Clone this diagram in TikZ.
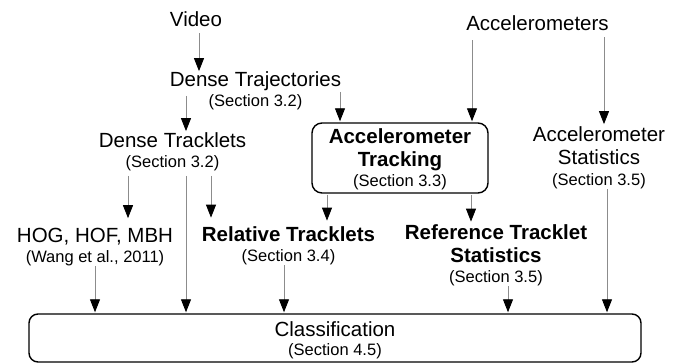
\documentclass[tikz,border=0pt]{standalone}
\usepackage{fontspec}
\setmainfont{Liberation Sans}
\usetikzlibrary{arrows.meta}
\definecolor{linegray}{RGB}{140,140,140}
\newcommand\mfont{\fontsize{20.5pt}{22pt}\selectfont}
\newcommand\sfnt{\fontsize{16.5pt}{18pt}\selectfont}
\newcommand\stk[2][20pt]{\vtop{\baselineskip=#1\relax\lineskiplimit=-100pt\lineskip=0pt\halign{\hfil##\hfil\cr#2\crcr}}}
\begin{document}
\begin{tikzpicture}[x=1pt,y=1pt,
  lbl/.style={inner sep=0pt, outer sep=0pt, anchor=base, font=\mfont},
  rbox/.style={draw, line width=1.4pt, rounded corners=10pt, inner xsep=0pt, inner ysep=3pt, anchor=base, font=\mfont},
  arr/.style={draw=linegray, line width=0.9pt, -{Triangle[length=13pt,width=10pt,black]}, shorten >=1pt}]
\useasboundingbox (0,0) rectangle (681,363);

% labels
\node[lbl] (video) at (196,336) {Video};
\node[lbl] (dtraj) at (255.5,276) {\stk[19.5pt]{Dense Trajectories\cr\sfnt (Section 3.2)}};
\node[lbl] (dtrack) at (172.5,215) {\stk{Dense Tracklets\cr\sfnt (Section 3.2)}};
\node[lbl] (accs) at (537.5,332) {Accelerometers};
\node[rbox, minimum width=176pt, text height=18pt, text depth=46pt] (acctrack) at (400,219)
  {\stk{\textbf{Accelerometer}\cr\noalign{\vskip3pt}\textbf{Tracking}\cr\sfnt (Section 3.3)}};
\node[lbl] (accstats) at (599,221) {\stk[21pt]{Accelerometer\cr\noalign{\vskip2pt}Statistics\cr\sfnt (Section 3.5)}};
\node[lbl] (hog) at (95,120) {\stk{HOG, HOF, MBH\cr\sfnt (Wang et al., 2011)}};
\node[lbl] (rel) at (288.5,121) {\stk{\textbf{Relative Tracklets}\cr\sfnt (Section 3.4)}};
\node[lbl] (ref) at (496,123) {\stk{\textbf{Reference Tracklet}\cr\noalign{\vskip3pt}\textbf{Statistics}\cr\sfnt (Section 3.5)}};
\node[rbox, rounded corners=9pt, minimum width=612pt, text height=20.5pt, text depth=22.5pt, inner ysep=2.5pt] (class) at (335,26)
  {\stk[19pt]{Classification\cr\sfnt (Section 4.5)}};

% connectors
\draw[arr, shorten <=6pt] ([xshift=3pt]video.south) -- ([xshift=3pt]video.south |- dtraj.north);
\draw[arr, shorten <=9pt, shorten >=2pt] ([xshift=-69.5pt]dtraj.base) -- ([xshift=-69.5pt]dtraj.base |- dtrack.north);
\draw[arr, shorten <=5pt] ([xshift=84.5pt]dtraj.base) -- ([xshift=84.5pt]dtraj.base |- acctrack.north);
\draw[arr, shorten <=9pt] ([xshift=-65.5pt]accs.south) -- ([xshift=-65.5pt]accs.south |- acctrack.north);
\draw[arr, shorten <=6pt, shorten >=3pt] ([xshift=66.5pt]accs.south) -- ([xshift=66.5pt]accs.south |- accstats.north);
\draw[arr, shorten <=4.5pt, shorten >=10.5pt] ([xshift=-44.5pt]dtrack.south) -- ([xshift=-44.5pt]dtrack.south |- hog.north);
\draw[arr, shorten <=4.5pt] ([xshift=13.5pt]dtrack.south) -- ([xshift=13.5pt]dtrack.south |- class.north);
\draw[arr, shorten <=4.5pt, shorten >=9.5pt] ([xshift=38.5pt]dtrack.south) -- ([xshift=38.5pt]dtrack.south |- rel.north);
\draw[arr, shorten <=1pt, shorten >=6.5pt] ([xshift=-73pt]acctrack.south) -- ([xshift=-73pt]acctrack.south |- rel.north);
\draw[arr, shorten <=1pt, shorten >=3.5pt] ([xshift=71pt]acctrack.south) -- ([xshift=71pt]acctrack.south |- ref.north);
\draw[arr] (hog.south) -- (hog.south |- class.north);
\draw[arr] ([xshift=-4.5pt]rel.south) -- ([xshift=-4.5pt]rel.south |- class.north);
\draw[arr] ([xshift=12pt]ref.south) -- ([xshift=12pt]ref.south |- class.north);
\draw[arr] ([xshift=8pt]accstats.south) -- ([xshift=8pt]accstats.south |- class.north);
\end{tikzpicture}
\end{document}
